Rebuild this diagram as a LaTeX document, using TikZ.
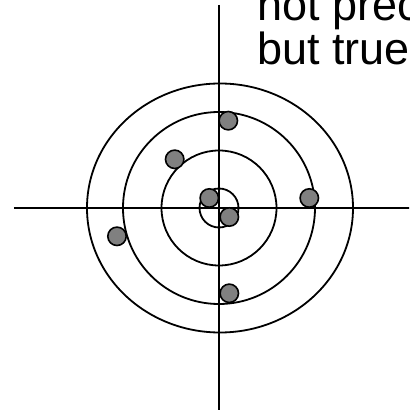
\documentclass[tikz,border=0pt]{standalone}
\usepackage{fontspec}
\setmainfont{Liberation Sans}
\begin{document}
\begin{tikzpicture}[x=1pt,y=1pt,axis/.style={line width=1.8pt},ring/.style={line width=1.8pt},shot/.style={circle, draw, line width=1.6pt, fill=black!50, minimum size=18.4pt, inner sep=0pt},label/.style={font=\fontsize{45}{54}\selectfont, anchor=base west, inner sep=0pt}]
\useasboundingbox (-219,-203) rectangle (190,208); \clip (-219,-203) rectangle (190,208);
\draw[axis] (0,203) -- (0,-202); \draw[axis] (-205,0) -- (195,0);
\draw[ring] (1,0) ellipse (133 and 124.5); \draw[ring] (0,0) circle (96);
\draw[ring] (0,0) circle (57.5); \draw[ring] (0,0) circle (19.5);
\node[shot] (s1) at (9.3,87.3) {}; \node[shot] (s2) at (-44.3,48.7) {};
\node[shot] (s3) at (-9.7,10) {}; \node[shot] (s4) at (10.3,-9) {};
\node[shot] (s5) at (90.3,10) {}; \node[shot] (s6) at (-102,-28.3) {};
\node[shot] (s7) at (10.3,-85.3) {};
\node[label] (l1) at (38,187.3) {not prec}; \node[label] (l2) at (38,143) {but true};
\end{tikzpicture}
\end{document}
